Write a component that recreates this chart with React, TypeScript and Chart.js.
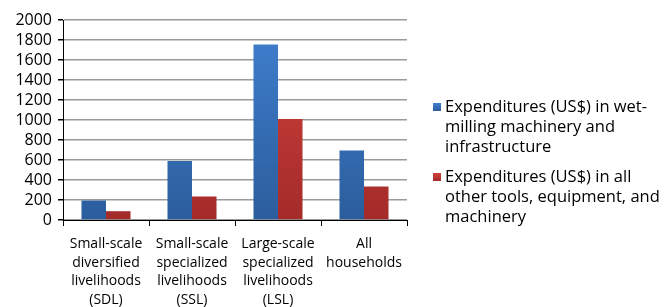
import React, { useEffect, useRef } from "react";
import { Chart, registerables } from "chart.js";

Chart.register(...registerables);

const categories: string[][] = [
  ["Small-scale", "diversified", "livelihoods", "(SDL)"],
  ["Small-scale", "specialized", "livelihoods", "(SSL)"],
  ["Large-scale", "specialized", "livelihoods", "(LSL)"],
  ["All", "households"],
];
const wetMilling: number[] = [195, 590, 1755, 695];
const otherTools: number[] = [88, 235, 1010, 335];
const seriesNames: string[][] = [
  ["Expenditures (US$) in wet-", "milling machinery and", "infrastructure"],
  ["Expenditures (US$) in all", "other tools, equipment, and", "machinery"],
];
const yTicks: number[] = [0, 200, 400, 600, 800, 1000, 1200, 1400, 1600, 1800, 2000];

const FONT = "'Open Sans', 'DejaVu Sans', sans-serif";
const blueStops = ["#4080D0", "#2B5D9C"];
const redStops = ["#D4433F", "#A32B29"];

function grad(stops: string[]) {
  return (ctx: any) => {
    const chart = ctx.chart;
    const area = chart.chartArea;
    if (!area) return stops[0];
    const g = chart.ctx.createLinearGradient(0, area.top, 0, area.bottom);
    g.addColorStop(0, stops[0]);
    g.addColorStop(1, stops[1]);
    return g;
  };
}

const legendPlugin = {
  id: "customLegend",
  afterDraw(chart: any) {
    const c = chart.ctx;
    c.save();
    c.font = `16.5px ${FONT}`;
    c.textBaseline = "middle";
    c.fillStyle = "#000";
    const x = 433;
    const starts = [107, 177];
    const colors = [blueStops, redStops];
    seriesNames.forEach((lines, i) => {
      const y0 = starts[i];
      const g = c.createLinearGradient(0, y0 - 4, 0, y0 + 4);
      g.addColorStop(0, colors[i][0]);
      g.addColorStop(1, colors[i][1]);
      c.fillStyle = g;
      c.fillRect(x, y0 - 4, 8, 8);
      c.fillStyle = "#000";
      lines.forEach((ln, j) => {
        c.fillText(ln, x + 12, y0 + j * 20);
      });
    });
    c.restore();
  },
};

export default function App() {
  const ref = useRef<HTMLCanvasElement>(null);
  useEffect(() => {
    if (!ref.current) return;
    const chart = new Chart(ref.current, {
      type: "bar",
      data: {
        labels: categories,
        datasets: [
          {
            label: seriesNames[0].join(" "),
            data: wetMilling,
            backgroundColor: grad(blueStops),
            borderWidth: 0,
          },
          {
            label: seriesNames[1].join(" "),
            data: otherTools,
            backgroundColor: grad(redStops),
            borderWidth: 0,
          },
        ],
      },
      options: {
        animation: false,
        responsive: false,
        maintainAspectRatio: false,
        layout: { padding: { top: 20, right: 264, left: 0, bottom: 0 } },
        plugins: {
          legend: { display: false },
          tooltip: { enabled: false },
        },
        datasets: {
          bar: { categoryPercentage: 0.57, barPercentage: 1 },
        },
        scales: {
          x: {
            afterFit: (axis: any) => {
              axis.height = 87;
            },
            grid: {
              offset: true,
              drawOnChartArea: false,
              drawTicks: true,
              tickLength: 6,
              tickColor: "#000",
            },
            border: { color: "#000", width: 1 },
            ticks: {
              color: "#000",
              font: { family: FONT, size: 14, lineHeight: 1.32 },
              maxRotation: 0,
              autoSkip: false,
              padding: 9,
            },
          },
          y: {
            min: 0,
            max: 2000,
            afterFit: (axis: any) => {
              axis.width = 63;
            },
            afterBuildTicks: (axis: any) => {
              axis.ticks = yTicks.map((v) => ({ value: v }));
            },
            grid: {
              color: "#9a9a9a",
              lineWidth: 1.5,
              tickLength: 5,
              tickColor: "#000",
            },
            border: { color: "#000", width: 1 },
            ticks: {
              color: "#000",
              autoSkip: false,
              font: { family: FONT, size: 16 },
              padding: 6,
              callback: (v: any) => String(v),
            },
          },
        },
      },
      plugins: [legendPlugin],
    });
    return () => chart.destroy();
  }, []);
  return (
    <div style={{ position: "fixed", left: 0, top: 0, width: 671, height: 307, background: "#fff" }}>
      <canvas ref={ref} width={671} height={307} style={{ width: 671, height: 307 }} />
    </div>
  );
}
